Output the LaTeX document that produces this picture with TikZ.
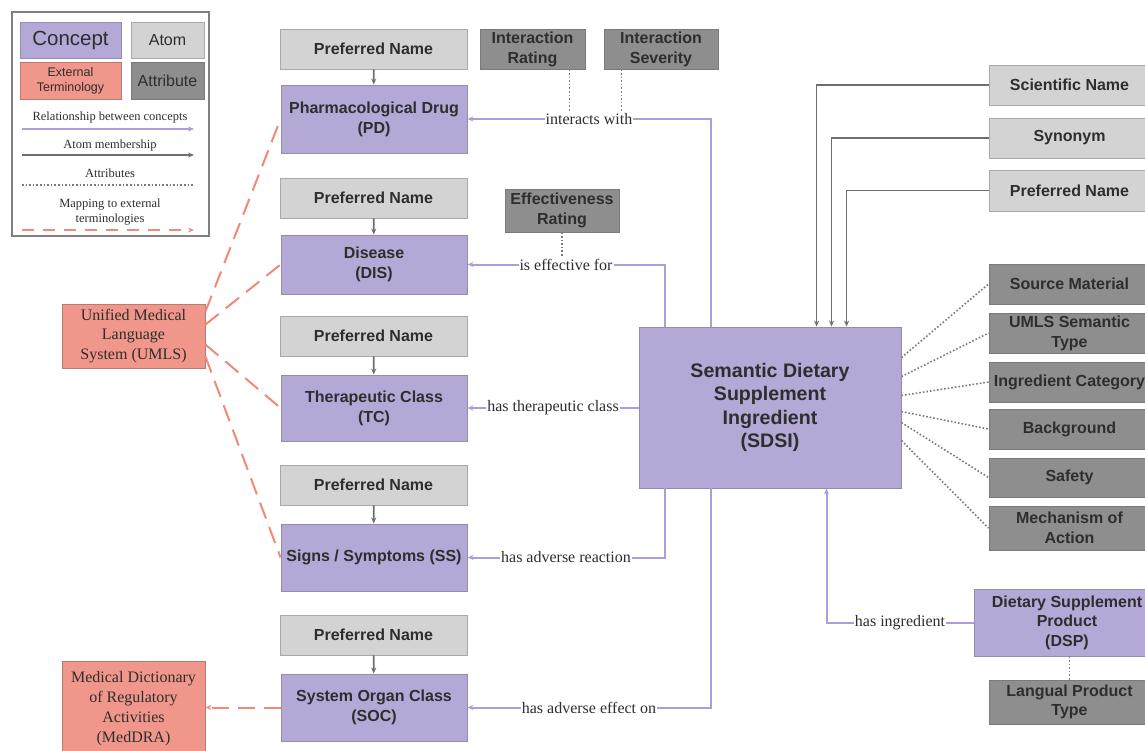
\documentclass[tikz,border=0pt]{standalone}
\usepackage{fontspec}
\setmainfont{Liberation Serif}
\newfontfamily\arialf{Liberation Sans}
\usetikzlibrary{arrows.meta,calc}
\definecolor{cfill}{HTML}{B3A8D6}
\definecolor{cborder}{HTML}{948BAE}
\definecolor{afill}{HTML}{D3D3D3}
\definecolor{aborder}{HTML}{A8A8A8}
\definecolor{tfill}{HTML}{8E8E8E}
\definecolor{tborder}{HTML}{7A7A7A}
\definecolor{efill}{HTML}{F1968A}
\definecolor{eborder}{HTML}{B87A72}
\definecolor{txt}{HTML}{2E2E2E}
\definecolor{rcol}{HTML}{AE9DDA}
\definecolor{mcol}{HTML}{6E6E6E}
\definecolor{dcol}{HTML}{7A7A7A}
\definecolor{mapcol}{HTML}{F08A76}
\begin{document}
\begin{tikzpicture}[x=1pt,y=-1pt,
  box/.style={draw, line width=0.9pt, inner sep=1pt, align=center, text=txt},
  sansb/.style={font=\arialf\bfseries\fontsize{16}{20}\selectfont},
  concept/.style={box, sansb, fill=cfill, draw=cborder},
  atom/.style={box, sansb, fill=afill, draw=aborder},
  attrib/.style={box, sansb, fill=tfill, draw=tborder},
  ext/.style={box, fill=efill, draw=eborder, font=\rmfamily\fontsize{16}{19.5}\selectfont},
  rel/.style={draw=rcol, line width=2pt, -{Stealth[length=6pt,width=5pt]}},
  mem/.style={draw=mcol, line width=1.8pt, -{Stealth[length=6pt,width=5pt]}},
  attr/.style={draw=dcol, line width=1.6pt, dotted},
  mapline/.style={draw=mapcol, line width=2pt, dash pattern=on 17pt off 9pt},
  lbl/.style={fill=white, inner sep=1pt, text=txt, font=\rmfamily\fontsize{16}{19}\selectfont},
  leg/.style={text=txt, align=center, font=\rmfamily\fontsize{12.5}{15}\selectfont}
]
\useasboundingbox (0,0) rectangle (1145,750);
\clip (0,0) rectangle (1145,750);

% ---------- legend ----------
\node[draw=gray, line width=1.6pt, fill=white, minimum width=197pt, minimum height=224pt, inner sep=0pt] (legend) at (110.5,124) {};
\node[box, fill=cfill, draw=cborder, minimum width=101pt, minimum height=36pt, font=\arialf\fontsize{20.5}{24}\selectfont] (lconcept) at (70.5,40) {Concept};
\node[box, fill=afill, draw=aborder, minimum width=73pt, minimum height=36pt, font=\arialf\fontsize{16}{20}\selectfont] (latom) at (167.5,40) {Atom};
\node[box, fill=efill, draw=eborder, minimum width=101pt, minimum height=37pt, font=\arialf\fontsize{12.5}{15}\selectfont] (lext) at (70.5,80.5) {External\\Terminology};
\node[box, fill=tfill, draw=tborder, minimum width=73pt, minimum height=37pt, font=\arialf\fontsize{16}{20}\selectfont] (lattr) at (167.5,80.5) {Attribute};
\node[leg] (lrel) at (110,117) {Relationship between concepts};
\node[leg] (lmem) at (110,145) {Atom membership};
\node[leg] (latt) at (110,173) {Attributes};
\node[leg] (lmap) at (110,212) {Mapping to external\\terminologies};
\coordinate (l1a) at (22,129); \coordinate (l1b) at (194,129);
\coordinate (l2a) at (22,155); \coordinate (l2b) at (194,155);
\coordinate (l3a) at (22,185); \coordinate (l3b) at (194,185);
\coordinate (l4a) at (22,230); \coordinate (l4b) at (194,230);
\draw[rel, line width=1.5pt] (l1a) -- (l1b);
\draw[mem, line width=1.5pt] (l2a) -- (l2b);
\draw[attr, line width=1.3pt] (l3a) -- (l3b);
\draw[mapline, dash pattern=on 12pt off 9pt, -{Stealth[length=6pt,width=5pt]}] (l4a) -- (l4b);

% ---------- left column ----------
\node[atom, minimum width=187pt, minimum height=40pt] (pn1) at (373.5,49) {Preferred Name};
\node[concept, minimum width=186pt, minimum height=68pt] (pd) at (374,119) {Pharmacological Drug\\(PD)};
\node[atom, minimum width=187pt, minimum height=40pt] (pn2) at (373.5,198) {Preferred Name};
\node[concept, minimum width=186pt, minimum height=59pt] (dis) at (374,264.5) {Disease\\(DIS)};
\node[atom, minimum width=187pt, minimum height=40pt] (pn3) at (373.5,336) {Preferred Name};
\node[concept, minimum width=186pt, minimum height=66pt] (tc) at (374,408) {Therapeutic Class\\(TC)};
\node[atom, minimum width=187pt, minimum height=40pt] (pn4) at (373.5,485) {Preferred Name};
\node[concept, minimum width=186pt, minimum height=67pt] (ss) at (374,557.5) {Signs / Symptoms (SS)};
\node[atom, minimum width=187pt, minimum height=40pt] (pn5) at (373.5,635) {Preferred Name};
\node[concept, minimum width=186pt, minimum height=67pt] (soc) at (374,707.5) {System Organ Class\\(SOC)};

\draw[mem] (pn1) -- (pd);
\draw[mem] (pn2) -- (dis);
\draw[mem] (pn3) -- (tc);
\draw[mem] (pn4) -- (ss);
\draw[mem] (pn5) -- (soc);

% ---------- attributes of relations ----------
\node[attrib, minimum width=105pt, minimum height=40pt] (irate) at (532.5,49) {Interaction\\Rating};
\node[attrib, minimum width=114pt, minimum height=40pt] (isev) at (661,49) {Interaction\\Severity};
\node[attrib, minimum width=114pt, minimum height=43pt] (erate) at (562,210.5) {Effectiveness\\Rating};

% ---------- SDSI ----------
\node[concept, minimum width=262pt, minimum height=161pt, font=\arialf\bfseries\fontsize{19.6}{23.5}\selectfont] (sdsi) at (770,407.5) {Semantic Dietary\\Supplement\\Ingredient\\(SDSI)};

% relationships
\draw[rel] ($(sdsi.north west)+(72,0)$) |- (pd.east) node[lbl, pos=0.75] (iw) {interacts with};
\draw[rel] ($(sdsi.north west)+(26,0)$) |- (dis.east) node[lbl, pos=0.75] (ief) {is effective for};
\draw[rel] (sdsi.west |- tc.east) -- (tc.east) node[lbl, midway] (htc) {has therapeutic class};
\draw[rel] ($(sdsi.south west)+(26,0)$) |- (ss.east) node[lbl, pos=0.75] (har) {has adverse reaction};
\draw[rel] ($(sdsi.south west)+(72,0)$) |- (soc.east) node[lbl, pos=0.75] (hae) {has adverse effect on};

\draw[attr] ($(irate.south east)+(-16,0)$) coordinate (ira) -- (ira |- iw.north);
\draw[attr] ($(isev.south west)+(18,0)$) coordinate (isa) -- (isa |- iw.north);
\draw[attr] (erate.south) -- (erate.south |- ief.north);

% ---------- right atoms ----------
\node[atom, minimum width=161pt, minimum height=40pt] (sci) at (1069.5,85) {Scientific Name};
\node[atom, minimum width=161pt, minimum height=40pt] (syn) at (1069.5,138) {Synonym};
\node[atom, minimum width=161pt, minimum height=41pt] (pnr) at (1069.5,190.5) {Preferred Name};
\draw[mem] (sci.west) -| ($(sdsi.north west)+(178,0)$);
\draw[mem] (syn.west) -| ($(sdsi.north west)+(193,0)$);
\draw[mem] (pnr.west) -| ($(sdsi.north west)+(208,0)$);

% ---------- right attributes ----------
\node[attrib, minimum width=161pt, minimum height=40pt] (src) at (1069.5,284) {Source Material};
\node[attrib, minimum width=161pt, minimum height=40pt] (umlsst) at (1069.5,333) {UMLS Semantic\\Type};
\node[attrib, minimum width=161pt, minimum height=40pt] (icat) at (1069.5,382) {Ingredient Category};
\node[attrib, minimum width=161pt, minimum height=40pt] (bg) at (1069.5,429) {Background};
\node[attrib, minimum width=161pt, minimum height=39pt] (safe) at (1069.5,477.5) {Safety};
\node[attrib, minimum width=161pt, minimum height=44pt] (moa) at (1069.5,528) {Mechanism of\\Action};
\draw[attr] ($(sdsi.north east)+(0,31)$) -- (src.west);
\draw[attr] ($(sdsi.north east)+(0,50)$) -- (umlsst.west);
\draw[attr] ($(sdsi.north east)+(0,69)$) -- (icat.west);
\draw[attr] ($(sdsi.north east)+(0,85)$) -- (bg.west);
\draw[attr] ($(sdsi.north east)+(0,96)$) -- (safe.west);
\draw[attr] ($(sdsi.north east)+(0,114)$) -- (moa.west);

% ---------- DSP ----------
\node[concept, minimum width=186pt, minimum height=67pt, font=\arialf\bfseries\fontsize{16}{19.5}\selectfont] (dsp) at (1067,622.5) {Dietary Supplement\\Product\\(DSP)};
\node[attrib, minimum width=161pt, minimum height=44pt, font=\arialf\bfseries\fontsize{16}{19.5}\selectfont] (lang) at (1069.5,702) {Langual Product\\Type};
\draw[rel] (dsp.west) -| ($(sdsi.south west)+(188,0)$) node[lbl, pos=0.25] (hi) {has ingredient};
\draw[attr] (lang.north |- dsp.south) -- (lang.north);

% ---------- external terminologies ----------
\node[ext, minimum width=143pt, minimum height=64pt] (umls) at (133.5,336) {Unified Medical\\Language\\System (UMLS)};
\node[ext, minimum width=143pt, minimum height=96pt, font=\rmfamily\fontsize{16}{20}\selectfont] (meddra) at (133.5,709) {Medical Dictionary\\of Regulatory\\Activities\\(MedDRA)};
\draw[mapline] ($(umls.north east)+(0,8)$) -- (pd.west);
\draw[mapline] ($(umls.north east)+(0,21)$) -- (dis.west);
\draw[mapline] ($(umls.north east)+(0,41)$) -- (tc.west);
\draw[mapline] ($(umls.north east)+(0,53)$) -- (ss.west);
\draw[mapline, -{Stealth[length=6pt,width=5pt]}] (soc.west) -- (meddra.east |- soc.west);
\end{tikzpicture}
\end{document}
